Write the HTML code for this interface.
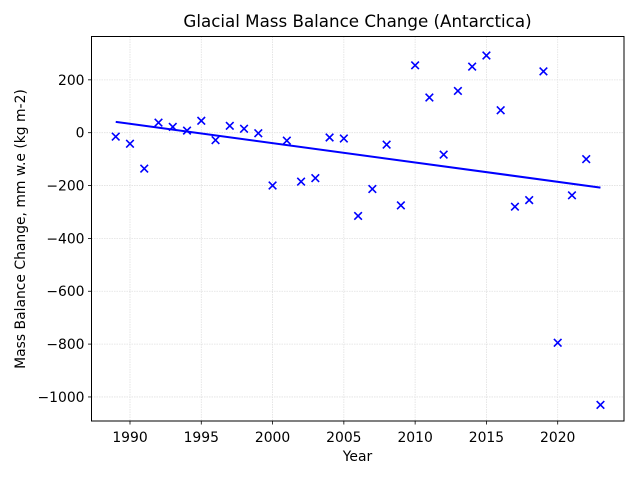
<!DOCTYPE html>
<html><head><meta charset="utf-8"><style>
html,body{margin:0;padding:0;background:#fff;}
svg{display:block;font-family:"DejaVu Sans","Liberation Sans",sans-serif;}
</style></head><body>
<svg id="chart" width="640" height="480" xmlns="http://www.w3.org/2000/svg"></svg>
<script>
const years=[1989,1990,1991,1992,1993,1994,1995,1996,1997,1998,1999,2000,2001,2002,2003,2004,2005,2006,2007,2008,2009,2010,2011,2012,2013,2014,2015,2016,2017,2018,2019,2020,2021,2022,2023];
const balance=[-15,-42,-136,38,22,8,45,-28,26,15,-2,-200,-30,-185,-172,-18,-22,-315,-213,-45,-275,255,133,-83,158,250,292,85,-280,-255,232,-795,-237,-100,-1030];
const xTicks=[1990,1995,2000,2005,2010,2015,2020];
const yTicks=[200,0,-200,-400,-600,-800,-1000];
const yTickLabels=["200","0","\u2212200","\u2212400","\u2212600","\u2212800","\u22121000"];

const L=91.5,R=624,T=36.5,B=421;
const xMin=1987.3,xMax=2024.65,yMin=-1091,yMax=364;
const X=v=>L+(v-xMin)/(xMax-xMin)*(R-L);
const Y=v=>B-(v-yMin)/(yMax-yMin)*(B-T);
const svg=document.getElementById('chart');
const NS="http://www.w3.org/2000/svg";
function mk(tag,attrs,parent){const e=document.createElementNS(NS,tag);for(const k in attrs)e.setAttribute(k,attrs[k]);(parent||svg).appendChild(e);return e;}

const grid=mk('g',{});


xTicks.forEach(t=>{const l=mk('line',{x1:X(t),x2:X(t),y1:T,y2:B,stroke:'#e0e0e0','stroke-width':0.8,'stroke-dasharray':'1.5,1'},grid);

});
yTicks.forEach(t=>{const l=mk('line',{x1:L,x2:R,y1:Y(t),y2:Y(t),stroke:'#e0e0e0','stroke-width':0.8,'stroke-dasharray':'1.5,1'},grid);

});

const n=years.length;let mx=0,my=0;years.forEach((x,i)=>{mx+=x;my+=balance[i];});mx/=n;my/=n;
let sxy=0,sxx=0;years.forEach((x,i)=>{sxy+=(x-mx)*(balance[i]-my);sxx+=(x-mx)*(x-mx);});
const slope=sxy/sxx,icpt=my-slope*mx;
const x0=years[0],x1=years[n-1];
const tl=mk('line',{x1:X(x0),y1:Y(icpt+slope*x0),x2:X(x1),y2:Y(icpt+slope*x1),stroke:'#0000ff','stroke-width':2});



const pts=mk('g',{});


years.forEach((yr,i)=>{const cx=X(yr),cy=Y(balance[i]),s=3.8;
const p=mk('path',{d:`M${cx-s},${cy-s}L${cx+s},${cy+s}M${cx-s},${cy+s}L${cx+s},${cy-s}`,stroke:'#0000ff','stroke-width':1.6,fill:'none'},pts);

});

const frame=mk('rect',{x:L,y:T,width:R-L,height:B-T,fill:'none',stroke:'#000','stroke-width':1});



xTicks.forEach(t=>{mk('line',{x1:X(t),x2:X(t),y1:B,y2:B+3.5,stroke:'#000','stroke-width':0.8});
const tx=mk('text',{x:X(t),y:B+21,'text-anchor':'middle','font-size':13.9});tx.textContent=t;

});
yTicks.forEach((t,i)=>{mk('line',{x1:L-3.5,x2:L,y1:Y(t),y2:Y(t),stroke:'#000','stroke-width':0.8});
const tx=mk('text',{x:L-7,y:Y(t)+5,'text-anchor':'end','font-size':13.9});tx.textContent=yTickLabels[i];

});
</script>
<div style="position:absolute;left:0;top:0;width:640px;height:480px;pointer-events:none;font-family:'DejaVu Sans','Liberation Sans',sans-serif;">
<div style="position:absolute;left:91px;width:533px;top:11px;text-align:center;font-size:16.7px;line-height:20px;">Glacial Mass Balance Change (Antarctica)</div>
<div style="position:absolute;left:91px;width:533px;top:449px;text-align:center;font-size:13.9px;line-height:16px;">Year</div>
<div style="position:absolute;left:21px;top:229px;width:0;height:0;"><div style="position:absolute;transform:translate(-50%,-50%) rotate(-90deg);white-space:nowrap;font-size:13.9px;line-height:16px;">Mass Balance Change, mm w.e (kg m-2)</div></div>
</div>
</body></html>
